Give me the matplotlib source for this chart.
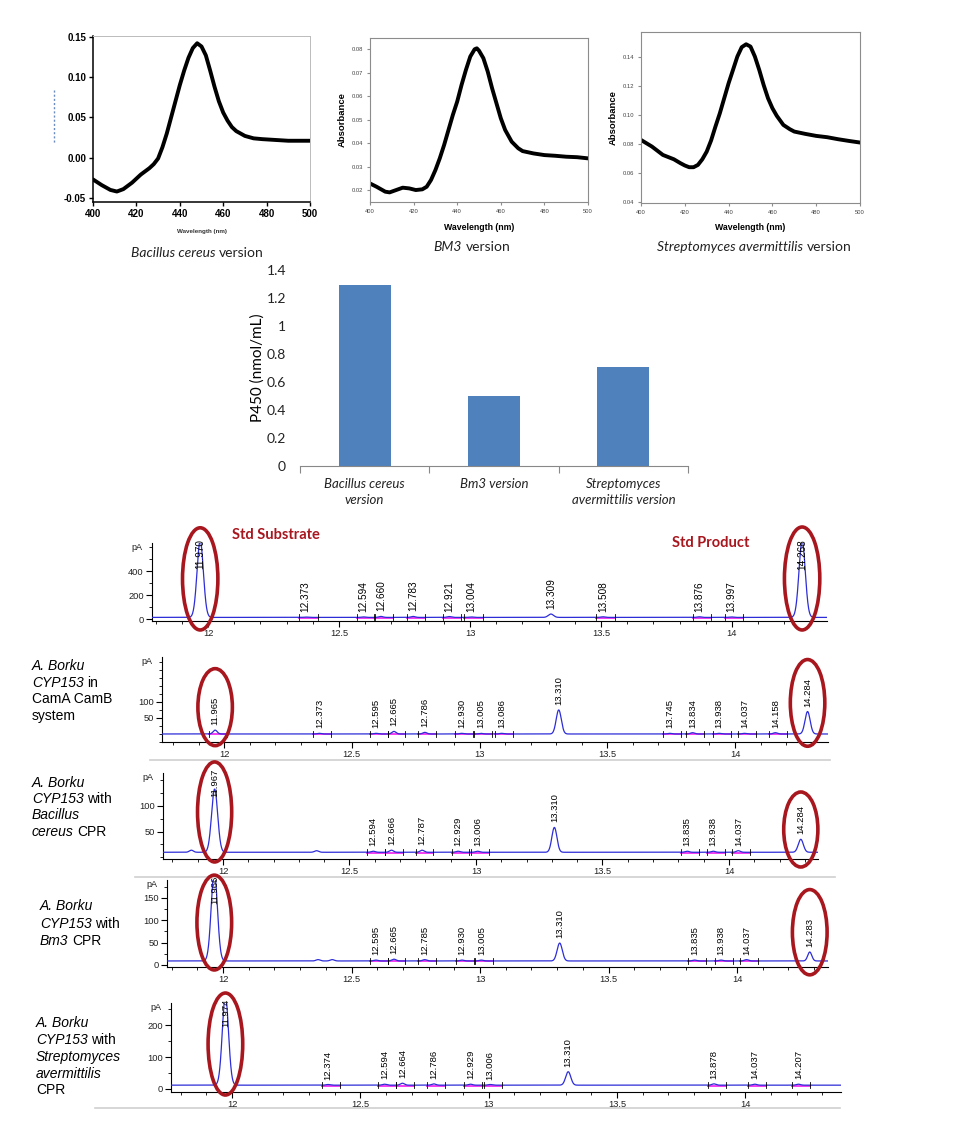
import numpy as np
import matplotlib
matplotlib.use('Agg')
import matplotlib.pyplot as plt
from matplotlib.patches import Ellipse
from matplotlib.transforms import blended_transform_factory
from matplotlib.ticker import MultipleLocator

plt.rcParams['font.family'] = 'Liberation Sans'

W, H = 973, 1123
RED = '#A8161E'
BLUE = '#2D2DD8'
PINK = '#F23CF0'

# CO-difference spectra, absorbance
spec_xticks = [400, 420, 440, 460, 480, 500]

bc_nm = [400, 404, 408, 411, 414, 418, 422, 426, 428, 430, 432, 434, 436, 438, 440, 442, 444, 446,
         448, 450, 452, 454, 456, 458, 460, 462, 464, 466, 468, 470, 474, 478, 484, 490, 496, 500]
bc_abs = [-0.027, -0.034, -0.040, -0.042, -0.039, -0.031, -0.021, -0.013, -0.008, -0.001, 0.013, 0.030,
          0.050, 0.070, 0.090, 0.108, 0.124, 0.136, 0.142, 0.138, 0.127, 0.108, 0.088, 0.070,
          0.056, 0.046, 0.038, 0.033, 0.030, 0.027, 0.024, 0.023, 0.022, 0.021, 0.021, 0.021]
bc_yticks = [-0.05, 0.0, 0.05, 0.10, 0.15]

bm_nm = [400, 403, 407, 409, 412, 415, 418, 421, 424, 426, 428, 430, 432, 434, 436, 438, 440, 442, 444,
         446, 448, 449, 450, 452, 454, 456, 458, 460, 462, 465, 468, 470, 475, 480, 485, 490, 495, 500]
bm_abs = [0.0228, 0.0214, 0.0193, 0.0190, 0.0200, 0.0210, 0.0207, 0.0200, 0.0203, 0.0214, 0.0243,
          0.0285, 0.0335, 0.0392, 0.0456, 0.0520, 0.0577, 0.0648, 0.0712, 0.0769, 0.0800, 0.0804,
          0.0794, 0.0762, 0.0705, 0.0634, 0.0570, 0.0506, 0.0456, 0.0406, 0.0378, 0.0366, 0.0356,
          0.0349, 0.0346, 0.0342, 0.0340, 0.0335]
bm_yticks = [0.02, 0.03, 0.04, 0.05, 0.06, 0.07, 0.08]

sa_nm = [400, 405, 410, 415, 418, 420, 422, 424, 426, 428, 430, 432, 434, 436, 438, 440, 442, 444,
         446, 448, 450, 452, 454, 456, 458, 460, 462, 465, 468, 470, 475, 480, 485, 490, 495, 500]
sa_abs = [0.0827, 0.0781, 0.0723, 0.0693, 0.0666, 0.0650, 0.0638, 0.0638, 0.0654, 0.0693, 0.0746,
          0.0823, 0.0920, 0.1012, 0.1116, 0.1220, 0.1312, 0.1405, 0.1470, 0.1490, 0.1474, 0.1405,
          0.1312, 0.1208, 0.1116, 0.1047, 0.0994, 0.0931, 0.0901, 0.0885, 0.0869, 0.0855, 0.0846,
          0.0832, 0.0820, 0.0809]
sa_yticks = [0.04, 0.06, 0.08, 0.10, 0.12, 0.14]

# P450 content
bar_labels = ['Bacillus cereus\nversion', 'Bm3 version', 'Streptomyces\navermittilis version']
p450 = [1.29, 0.50, 0.71]
bar_yticks = [0, 0.2, 0.4, 0.6, 0.8, 1, 1.2, 1.4]
bar_ytick_labels = ['0', '0.2', '0.4', '0.6', '0.8', '1', '1.2', '1.4']

# GC traces: retention time (min) and peak height above baseline (pA)
rt_ticks = [12, 12.5, 13, 13.5, 14]
rt_tick_labels = ['12', '12.5', '13', '13.5', '14']

std_rt = [11.970, 12.373, 12.594, 12.660, 12.783, 12.921, 13.004, 13.309, 13.508, 13.876, 13.997, 14.268]
std_h = [640, 3, 4, 8, 8, 7, 4, 28, 5, 5, 4, 640]

camab_rt = [11.965, 12.373, 12.595, 12.665, 12.786, 12.930, 13.005, 13.086, 13.310, 13.745, 13.834,
            13.938, 14.037, 14.158, 14.284]
camab_h = [12, 2, 2, 8, 5, 2, 2, 2, 75, 2, 4, 2, 2, 4, 70]

bc_rt = [11.967, 12.594, 12.666, 12.787, 12.929, 13.006, 13.310, 13.835, 13.938, 14.037, 14.284]
bc_h = [122, 2, 4, 4, 2, 2, 48, 2, 2, 3, 25]
bc_extra_rt = [11.875, 12.37]
bc_extra_h = [4, 3]

bm_rt = [11.966, 12.595, 12.665, 12.785, 12.930, 13.005, 13.310, 13.835, 13.938, 14.037, 14.283]
bm_h = [200, 2, 4, 3, 2, 2, 40, 2, 2, 3, 20]
bm_extra_rt = [12.37, 12.425]
bm_extra_h = [3, 3]

sa_rt = [11.974, 12.374, 12.594, 12.664, 12.786, 12.929, 13.006, 13.310, 13.878, 14.037, 14.207]
sa_h = [280, 2, 3, 6, 4, 3, 2, 42, 4, 3, 3]


fig = plt.figure(figsize=(W / 100, H / 100), dpi=100)
renderer = fig.canvas.get_renderer()

# full-figure layer in pixel coordinates for decorations
bg = fig.add_axes([0, 0, 1, 1])
bg.set_xlim(0, W)
bg.set_ylim(H, 0)
bg.axis('off')


def px_axes(l, t, r, b):
    return fig.add_axes([l / W, 1 - b / H, (r - l) / W, (b - t) / H])


def rich(x, y, parts, size, family, ha='left', color='black', weight='normal'):
    # parts: (text, italic) pieces on one baseline; x, y in pixels from top-left
    pieces = []
    for s, it in parts:
        pieces.append(fig.text(0, 1 - y / H, s, fontsize=size, family=family, color=color,
                               style='italic' if it else 'normal', weight=weight, va='baseline'))
    gap = size * 100 / 72 * 0.26
    widths = [p.get_window_extent(renderer).width for p in pieces]
    total = sum(widths) + gap * (len(pieces) - 1)
    x0 = x - total / 2 if ha == 'center' else x
    for p, w in zip(pieces, widths):
        p.set_x(x0 / W)
        x0 += w + gap


# ---------------- spectra ----------------
def spectrum(box, nm, ab, ylim, yticks):
    ax = px_axes(*box)
    ax.plot(nm, ab, color='black', lw=2.8, solid_joinstyle='round', solid_capstyle='round')
    ax.set_xlim(400, 500)
    ax.set_ylim(*ylim)
    ax.set_xticks(spec_xticks)
    ax.set_yticks(yticks)
    ax.set_yticklabels([f'{v:.2f}' for v in yticks])
    return ax


def label_coords(ax, box, xlab_y=None, ylab_x=None):
    l, t, r, b = box
    if xlab_y is not None:
        ax.xaxis.set_label_coords(0.5, (b - xlab_y) / (b - t))
        ax.xaxis.label.set_va('center')
    if ylab_x is not None:
        ax.yaxis.set_label_coords((ylab_x - l) / (r - l), 0.5)
        ax.yaxis.label.set_va('center')


box1 = (93, 36, 310, 202)
ax1 = spectrum(box1, bc_nm, bc_abs, (-0.055, 0.151), bc_yticks)
for s in ('left', 'bottom'):
    ax1.spines[s].set_linewidth(1.1)
for s in ('top', 'right'):
    ax1.spines[s].set_color('#BBBBBB')
    ax1.spines[s].set_linewidth(0.7)
ax1.tick_params(length=3, width=1, pad=2, labelsize=7)
for lab in ax1.get_xticklabels() + ax1.get_yticklabels():
    lab.set_fontweight('bold')
ax1.set_xlabel('Wavelength (nm)', fontsize=4.5, fontweight='bold', color='#333333')
label_coords(ax1, box1, xlab_y=231)
bg.plot([54, 54], [90, 143], color='#6A8CC0', lw=1, ls=(0, (1.5, 1.5)))

for box, nm, ab, ylim, yt, xl_y, yl_x in [
        ((370, 38, 588, 202), bm_nm, bm_abs, (0.0149, 0.0848), bm_yticks, 227, 342),
        ((641, 32, 860, 203), sa_nm, sa_abs, (0.039, 0.1575), sa_yticks, 228, 613)]:
    ax = spectrum(box, nm, ab, ylim, yt)
    for s in ax.spines.values():
        s.set_color('#8C8C8C')
        s.set_linewidth(0.8)
    ax.tick_params(length=2, color='#8C8C8C', labelcolor='#444444', labelsize=4.2, pad=3)
    ax.set_xlabel('Wavelength (nm)', fontsize=6.3, fontweight='bold')
    ax.set_ylabel('Absorbance', fontsize=6.8, fontweight='bold')
    label_coords(ax, box, xlab_y=xl_y, ylab_x=yl_x)

rich(197, 257, [('Bacillus cereus', True), ('version', False)], 10, 'Lato', ha='center', color='#222222')
rich(472, 251, [('BM3', True), ('version', False)], 10, 'Lato', ha='center', color='#222222')
rich(754, 251, [('Streptomyces avermittilis', True), ('version', False)], 10, 'Lato', ha='center',
     color='#222222')

# ---------------- bar chart ----------------
box_b = (300, 270, 688, 466)
axb = px_axes(*box_b)
xb = np.arange(len(p450))
axb.bar(xb, p450, width=0.4, color='#4F81BD')
axb.set_xlim(xb[0] - 0.5, xb[-1] + 0.5)
axb.set_ylim(bar_yticks[0], bar_yticks[-1])
axb.set_yticks(bar_yticks)
axb.set_yticklabels(bar_ytick_labels, family='Lato', fontsize=10)
axb.set_xticks(xb)
axb.set_xticklabels(bar_labels, family='Lato', style='italic', fontsize=9.5, linespacing=1.3)
axb.set_xticks(np.append(xb - 0.5, xb[-1] + 0.5), minor=True)
axb.tick_params(axis='x', which='major', length=0, pad=9, labelcolor='#222222')
axb.tick_params(axis='x', which='minor', length=5, color='#888888', width=0.8)
axb.tick_params(axis='y', length=0, pad=10, labelcolor='#222222')
for s in ('top', 'right', 'left'):
    axb.spines[s].set_visible(False)
axb.spines['bottom'].set_color('#888888')
axb.set_ylabel('P450 (nmol/mL)', family='Lato', fontsize=11)
label_coords(axb, box_b, ylab_x=258)


# ---------------- GC chromatograms ----------------
def chromatogram(box, xlim, ylim, ymajor, yminor, rts, hs, base, extra_rt=(), extra_h=(),
                 lab_size=6.8, ellipses=()):
    l, t, r, b = box
    ax = px_axes(*box)
    ax.set_facecolor('none')
    ppx = (ylim[1] - ylim[0]) / (b - t)
    x = np.linspace(xlim[0], xlim[1], 4000)
    y = np.full_like(x, float(base))
    for rt, h in zip(list(rts) + list(extra_rt), list(hs) + list(extra_h)):
        s = 0.012 if h > 100 else (0.010 if h > 20 else 0.008)
        y += h * np.exp(-0.5 * ((x - rt) / s) ** 2)
    ax.plot(x, y, color=BLUE, lw=0.9, zorder=3)

    em = lab_size * 100 / 72
    lab_len = 3.1 * em
    for rt, h in zip(rts, hs):
        if h < 20:
            ax.plot([rt - 0.025, rt + 0.045], [base - 0.5 * ppx] * 2, color=PINK, lw=1.4, zorder=2)
            for xm in (rt - 0.025, rt + 0.045):
                ax.plot([xm, xm], [base - 3 * ppx, base + 3 * ppx], color='black', lw=0.6, zorder=4)
        top = base + h
        if (ylim[1] - top) / ppx < lab_len + 6:
            ax.text(rt, ylim[1] + 4 * ppx, f'{rt:.3f}', rotation=90, ha='center', va='top',
                    fontsize=lab_size, clip_on=False, zorder=5)
        else:
            ax.text(rt, top + 5 * ppx, f'{rt:.3f}', rotation=90, ha='center', va='bottom',
                    fontsize=lab_size, clip_on=False, zorder=5)

    ax.set_xlim(*xlim)
    ax.set_ylim(*ylim)
    for s in ('top', 'right'):
        ax.spines[s].set_visible(False)
    for s in ('left', 'bottom'):
        ax.spines[s].set_linewidth(0.8)
    ax.set_xticks(rt_ticks)
    ax.set_xticklabels(rt_tick_labels)
    ax.xaxis.set_minor_locator(MultipleLocator(0.1))
    ax.set_yticks(ymajor)
    ax.yaxis.set_minor_locator(MultipleLocator(yminor))
    ax.tick_params(which='major', direction='out', length=4, width=0.8, labelsize=6.7, pad=2,
                   labelcolor='#222222')
    ax.tick_params(which='minor', direction='out', length=2, width=0.6)
    ax.annotate('pA', xy=(0, 1), xycoords='axes fraction', xytext=(-7, -3),
                textcoords='offset points', ha='right', va='center', fontsize=6.5, color='#222222')

    tr = blended_transform_factory(ax.transData, ax.transAxes)
    for i, cy, hh in ellipses:
        ax.add_patch(Ellipse((rts[i], cy), 0.135, hh, transform=tr, fill=False, ec=RED, lw=2.6,
                             clip_on=False, zorder=6))
    return ax


chromatogram((152, 543, 827, 621), (11.786, 14.363), (-15, 635), [0, 200, 400], 100,
             std_rt, std_h, 15, lab_size=7.2,
             ellipses=[(0, 0.54, 1.31), (len(std_rt) - 1, 0.545, 1.32)])
chromatogram((162, 657, 828, 742), (11.757, 14.364), (-25, 240), [50, 100], 25,
             camab_rt, camab_h, 0,
             ellipses=[(0, 0.41, 0.906), (len(camab_rt) - 1, 0.46, 1.02)])
chromatogram((163, 773, 818, 859), (11.763, 14.352), (-3, 163), [50, 100], 25,
             bc_rt, bc_h, 10, bc_extra_rt, bc_extra_h,
             ellipses=[(0, 0.547, 1.163), (len(bc_rt) - 1, 0.343, 0.872)])
chromatogram((167, 880, 828, 967), (11.782, 14.354), (-4.5, 190), [0, 50, 100, 150], 25,
             bm_rt, bm_h, 9, bm_extra_rt, bm_extra_h,
             ellipses=[(0, 0.511, 1.09), (len(bm_rt) - 1, 0.40, 0.98)])
chromatogram((171, 1003, 841, 1092), (11.762, 14.373), (-9.4, 269), [0, 100, 200], 50,
             sa_rt, sa_h, 12,
             ellipses=[(0, 0.539, 1.146)])

# headings over the standard run
bg.text(232, 535, 'Std Substrate', family='Lato', fontweight='bold', fontsize=10.5, color=RED,
        va='center', ha='left')
bg.text(672, 543, 'Std Product', family='Lato', fontweight='bold', fontsize=10.5, color=RED,
        va='center', ha='left')

# thin grey edges of the pasted screenshots
for yy, x0, x1 in [(760, 150, 830), (877, 135, 835), (1108, 95, 840)]:
    bg.plot([x0, x1], [yy, yy], color='#CFCFCF', lw=1.2)

# sample descriptions
F = 'Liberation Sans'
rich(32, 670, [('A. Borku', True)], 10, F)
rich(32, 687, [('CYP153', True), ('in', False)], 10, F)
rich(32, 703, [('CamA CamB', False)], 10, F)
rich(32, 720, [('system', False)], 10, F)

rich(32, 787, [('A. Borku', True)], 10, F)
rich(32, 803, [('CYP153', True), ('with', False)], 10, F)
rich(32, 819, [('Bacillus', True)], 10, F)
rich(32, 836, [('cereus', True), ('CPR', False)], 10, F)

rich(40, 910, [('A. Borku', True)], 10, F)
rich(40, 928, [('CYP153', True), ('with', False)], 10, F)
rich(40, 945, [('Bm3', True), ('CPR', False)], 10, F)

rich(36, 1027, [('A. Borku', True)], 10, F)
rich(36, 1044, [('CYP153', True), ('with', False)], 10, F)
rich(36, 1061, [('Streptomyces', True)], 10, F)
rich(36, 1078, [('avermittilis', True)], 10, F)
rich(36, 1094, [('CPR', False)], 10, F)

fig.savefig('out.png', dpi=100)
